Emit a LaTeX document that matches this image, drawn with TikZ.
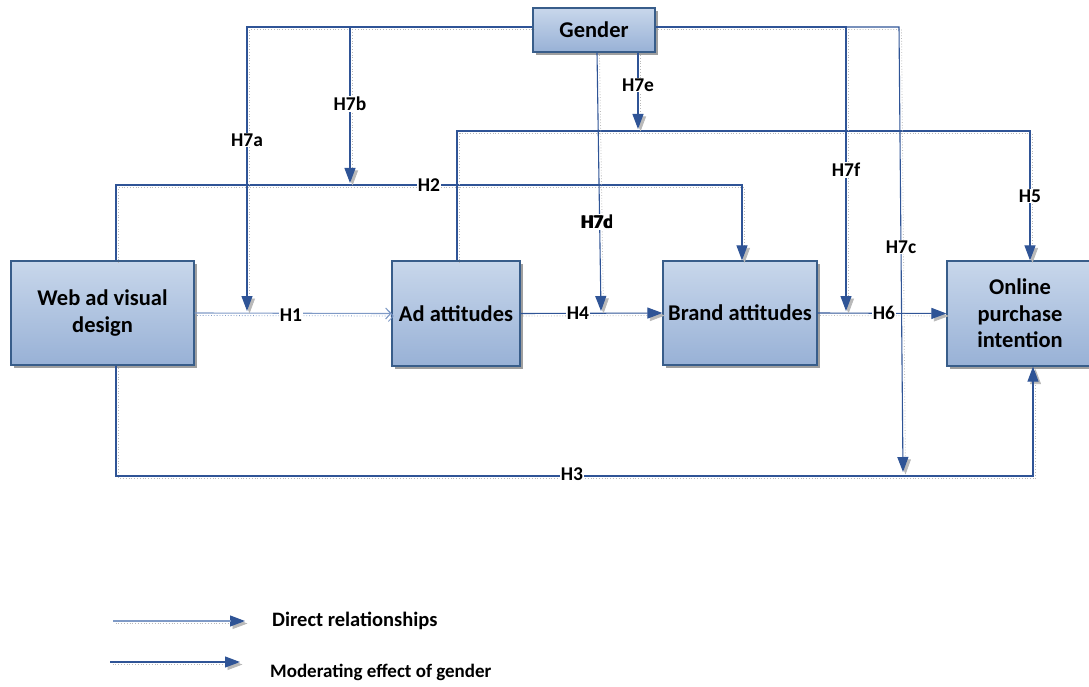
\documentclass[tikz,border=0pt]{standalone}
\usepackage{fontspec}
\setmainfont{Carlito}
\usetikzlibrary{arrows.meta,shadows,calc}
\definecolor{ln}{HTML}{2F5496}
\definecolor{lnlight}{HTML}{7F9AC6}
\definecolor{bord}{HTML}{385D8A}
\definecolor{btop}{HTML}{C8D7EB}
\definecolor{bbot}{HTML}{98B1D6}
\tikzset{
  box/.style={draw=bord, line width=1.2pt, top color=btop, bottom color=bbot,
    font=\bfseries\fontsize{22.5}{26.5}\selectfont, align=center, inner sep=0pt,
    drop shadow={shadow xshift=3pt, shadow yshift=-3pt, fill=gray!75, opacity=1}},
  lab/.style={fill=white, inner sep=1pt, font=\bfseries\fontsize{19.5}{22}\selectfont},
  labnf/.style={inner sep=1pt, font=\bfseries\fontsize{19.5}{22}\selectfont},
  legtxt/.style={anchor=west, inner sep=0pt, font=\bfseries\fontsize{20.5}{24}\selectfont},
  legtxtb/.style={anchor=west, inner sep=0pt, font=\bfseries\fontsize{19}{22}\selectfont},
  mln/.style={draw=ln, line width=1.1pt},
  sln/.style={draw=gray!55, line width=0.8pt, dotted},
  tip/.style={-{Triangle[length=15pt,width=11pt]}},
  opentip/.style={-{Straight Barb[length=5pt,width=11pt]}},
  light/.style={draw=lnlight},
}
\newcommand\lnk[2]{%
  \path[sln,#1,transform canvas={shift={(2.5,2.5)}}] #2;
  \path[mln,#1] #2;}
\begin{document}
\begin{tikzpicture}[x=1pt,y=-1pt]
\useasboundingbox (0,0) rectangle (1089,687);
% columns and rows
\foreach \n/\v in {116/116,247/247,350/350,457/457,597/597,601/601,638/638,742/742,846/846,899/899,903/903,1030/1030,1033/1033}
  \coordinate (c\n) at (\v,0);
\foreach \n/\v in {27/27,129/129,131/131,183/183,185/185,311/311,472/472,476/476}
  \coordinate (r\n) at (0,\v);

% boxes
\node[box, minimum width=122pt, minimum height=44pt] (gender) at (594,30) {Gender};
\node[box, minimum width=183pt, minimum height=104pt] (web) at (102.5,313) {Web ad visual\\design};
\node[box, minimum width=128pt, minimum height=105pt] (ad) at (456,313.5) {Ad attitudes};
\node[box, minimum width=154pt, minimum height=104pt] (brand) at (740,313) {Brand attitudes};
\node[box, minimum width=146pt, minimum height=105pt] (online) at (1020,313.5) {Online\\purchase\\intention};

% direct relationships
\lnk{opentip,light}{(web.east) -- (ad.west)}
\lnk{tip}{(web.north -| c116) -- (c116 |- r185) -- (c742 |- r185) -- (brand.north -| c742)}
\lnk{tip}{(web.south -| c116) -- (c116 |- r476) -- (c1033 |- r476) -- (online.south -| c1033)}
\lnk{tip}{(ad.east) -- (brand.west)}
\lnk{tip}{(ad.north -| c457) -- (c457 |- r131) -- (c1030 |- r131) -- (online.north -| c1030)}
\lnk{tip}{(brand.east) -- (online.west)}

% moderating effects
\coordinate (jb) at (c350 |- r27);
\coordinate (jf) at (c846 |- r27);
\lnk{tip}{(gender.west |- r27) -- (c247 |- r27) -- (c247 |- r311)}
\lnk{tip}{(jb) -- (c350 |- r183)}
\lnk{tip}{(gender.south -| c597) -- (c601 |- r311)}
\lnk{tip}{(gender.south -| c638) -- (c638 |- r129)}
\lnk{tip}{(gender.east |- r27) -- (jf) -- (c846 |- r311)}
\lnk{tip}{(jf) -- (c899 |- r27) -- (c903 |- r472)}

% labels
\node[lab] (h7a) at (247,140) {H7a};
\node[lab] (h7b) at (350,104) {H7b};
\node[lab] (h7e) at (638,85) {H7e};
\node[lab] (h7d) at (597,222) {H7d};
\node[labnf] (h7cb) at (597,222) {H7c};
\node[lab] (h7f) at (846,170) {H7f};
\node[lab] (h7c) at (901,247) {H7c};
\node[lab] (h5) at (1030,196) {H5};
\node[lab] (h2) at (429,185) {H2};
\node[lab] (h1) at (291,315) {H1};
\node[lab] (h4) at (578,313) {H4};
\node[lab] (h6) at (884,313) {H6};
\node[lab] (h3) at (572,474) {H3};

% legend
\coordinate (la1) at (113,621);
\coordinate (la2) at (245,621);
\coordinate (lb1) at (110,662);
\coordinate (lb2) at (240,662);
\lnk{tip}{(la1) -- (la2)}
\path[draw=lnlight, line width=1.1pt] (la1) -- ($(la2)+(-14,0)$);
\lnk{tip}{(lb1) -- (lb2)}
\node[legtxt] (lt1) at (272,621) {Direct relationships};
\node[legtxtb] (lt2) at (270,672) {Moderating effect of gender};
\end{tikzpicture}
\end{document}
